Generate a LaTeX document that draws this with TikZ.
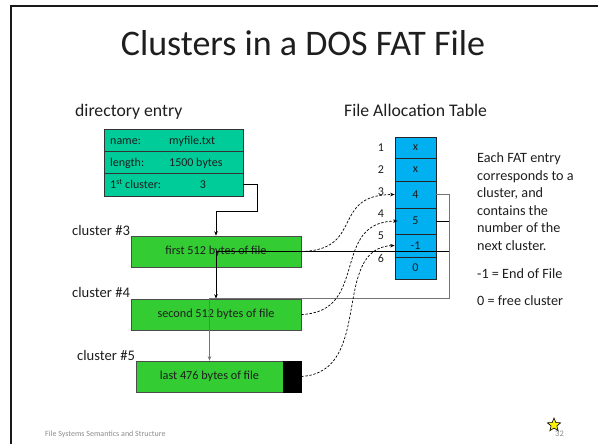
\documentclass[tikz,border=0pt]{standalone}
\usepackage{fontspec}
\setmainfont{Carlito}
\usetikzlibrary{arrows.meta,shapes.geometric}
\definecolor{dirgreen}{RGB}{0,204,153}
\definecolor{clgreen}{RGB}{51,204,51}
\definecolor{fatblue}{RGB}{0,176,240}
\definecolor{txt}{RGB}{30,30,30}
\definecolor{foot}{RGB}{140,140,140}
\begin{document}
\begin{tikzpicture}[x=1pt,y=-1pt,
  dirrow/.style={draw=black!80,fill=dirgreen,minimum width=139pt,minimum height=22.3pt,inner sep=0pt,line width=.6pt},
  dtext/.style={inner sep=0pt,anchor=base west,text=txt,font=\fontsize{12}{14}\selectfont},
  clbox/.style={draw=black!70,fill=clgreen,minimum height=31pt,inner sep=0pt,line width=.6pt,text=txt,font=\fontsize{12.2}{14}\selectfont},
  fatrow/.style={draw=black!85,fill=fatblue,minimum width=41pt,inner sep=0pt,line width=.6pt,text=txt,font=\fontsize{12}{14}\selectfont},
  numtext/.style={inner sep=0pt,anchor=base,text=txt,font=\fontsize{12}{14}\selectfont},
  lbl/.style={inner sep=0pt,anchor=base west,text=txt,font=\fontsize{14.6}{17}\selectfont},
  head/.style={inner sep=0pt,anchor=base west,text=txt,font=\fontsize{17.7}{20}\selectfont},
  side/.style={inner sep=0pt,anchor=base west,text=txt,font=\fontsize{14.2}{17}\selectfont},
  link/.style={line width=.8pt,-{Stealth[length=4.5pt,width=3.5pt]}},
  dlink/.style={line width=.7pt,dash pattern=on 2.5pt off 1.6pt,-{Stealth[length=4.5pt,width=3.5pt]}}]
\useasboundingbox (0,0) rectangle (598,444);
% slide frame
\draw[line width=1.6pt,black!90] (598,6) -- (11,6) -- (11,444);
% title
\node[inner sep=0pt,anchor=base,text=txt,font=\fontsize{36}{40}\selectfont] (title) at (303,56) {Clusters in a DOS FAT File};
% headings
\node[head] (hdir) at (75,117) {directory entry};
\node[head] (hfat) at (344,117) {File Allocation Table};
% directory entry
\node[dirrow] (d1) at (173.5,140.2) {};
\node[dirrow] (d2) at (173.5,162.5) {};
\node[dirrow] (d3) at (173.5,184.8) {};
\node[dtext] (n1) at (110,145) {name:};
\node[dtext] (v1) at (169,145) {myfile.txt};
\node[dtext] (n2) at (110,167) {length:};
\node[dtext] (v2) at (169,167) {1500 bytes};
\node[dtext] (n3) at (110,189) {1\textsuperscript{st} cluster:};
\node[dtext,anchor=base] (v3) at (203,189) {3};
% clusters
\node[lbl] (l3) at (72,235) {cluster \#3};
\node[lbl] (l4) at (72,297) {cluster \#4};
\node[lbl] (l5) at (77,360) {cluster \#5};
\node[clbox,minimum width=170pt] (c3) at (216,251.5) {first 512 bytes of file};
\node[clbox,minimum width=170pt] (c4) at (216,314.5) {second 512 bytes of file};
\node[clbox,minimum width=147pt] (c5) at (209.5,376.5) {last 476 bytes of file};
\node[draw=black,fill=black,minimum width=18pt,minimum height=31pt,inner sep=0pt] (c5e) at (292,376.5) {};
% FAT
\node[fatrow,minimum height=21pt] (f1) at (415.5,147.5) {x};
\node[fatrow,minimum height=23pt] (f2) at (415.5,169.5) {x};
\node[fatrow,minimum height=27pt] (f3) at (415.5,194.5) {4};
\node[fatrow,minimum height=26pt] (f4) at (415.5,221) {5};
\node[fatrow,minimum height=23pt] (f5) at (415.5,245.5) {-1};
\node[fatrow,minimum height=22pt] (f6) at (415.5,268) {0};
\node[numtext] (k1) at (381,152) {1};
\node[numtext] (k2) at (381,173) {2};
\node[numtext] (k3) at (381,195) {3};
\node[numtext] (k4) at (381,217) {4};
\node[numtext] (k5) at (381,240) {5};
\node[numtext] (k6) at (381,262) {6};
% side text
\node[side] (s1) at (477,163) {Each FAT entry};
\node[side] (s2) at (477,180.4) {corresponds to a};
\node[side] (s3) at (477,197.8) {cluster, and};
\node[side] (s4) at (477,215.2) {contains the};
\node[side] (s5) at (477,232.6) {number of the};
\node[side] (s6) at (477,250) {next cluster.};
\node[side] (s7) at (477,278) {-1 = End of File};
\node[side] (s8) at (477,305) {0 = free cluster};
% links
\draw[link] (d3.east) -- ++(14,0) -- ++(0,27) -| (c3.north);
\draw[link] (f4.east) -- ++(13,0) |- (c3.center) -- (c4.north);
\draw[link,draw=black!55] (f3.east) -- ++(13,0) |- (c5.north |- c4.north) -- (c5.north);
\draw[dlink] (c3.east) .. controls (365,250) and (330,195) .. (f3.west);
\draw[dlink] (c4.east) .. controls (370,312) and (330,222) .. ([xshift=3pt]f4.west);
\draw[dlink] (c5.east -| c5e.east) .. controls (375,372) and (330,248) .. (f5.west);
% footer
\node[inner sep=0pt,anchor=base west,text=foot,font=\fontsize{8}{9}\selectfont] (foot) at (45,436) {File Systems Semantics and Structure};
\node[inner sep=0pt,anchor=base west,text=foot,font=\fontsize{8.5}{9}\selectfont] (pg) at (555,436) {32};
\node[star,star points=5,star point ratio=2.3,minimum size=14pt,inner sep=0pt,fill=yellow,draw=black,line width=.6pt] (st) at (554,425) {};
\end{tikzpicture}
\end{document}
